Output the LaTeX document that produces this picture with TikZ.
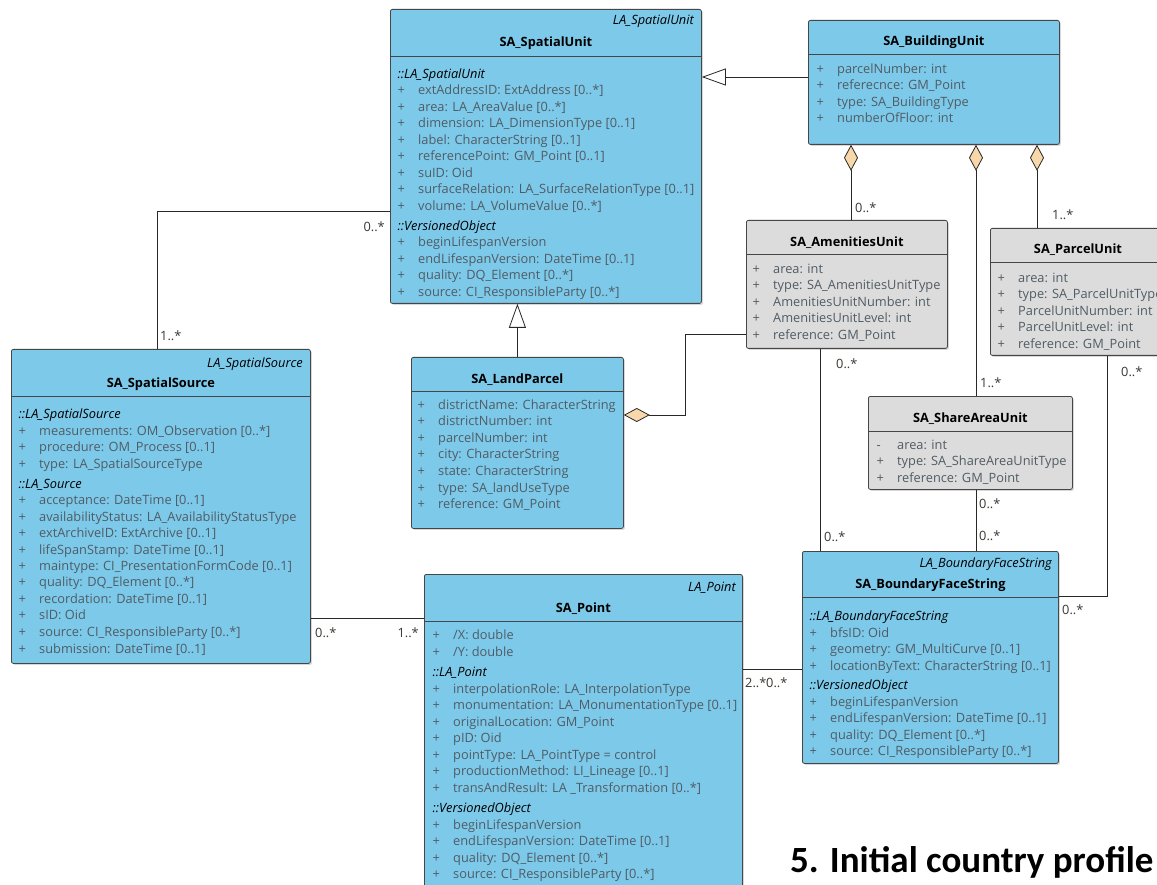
\documentclass[tikz,border=0pt]{standalone}
\usepackage{fontspec}
\setmainfont{Open Sans}
\newfontfamily\titlefont{Carlito}
\usetikzlibrary{arrows.meta,shadows}

\definecolor{clsblue}{RGB}{125,201,234}
\definecolor{clsgray}{RGB}{220,220,220}
\definecolor{boxline}{RGB}{70,70,70}
\definecolor{linecol}{RGB}{40,40,40}
\definecolor{attrcol}{RGB}{80,92,100}
\definecolor{multcol}{RGB}{60,55,50}
\definecolor{peach}{RGB}{248,216,170}

\newcommand{\umlfont}{\fontsize{12.8}{16.5}\selectfont}
\newcommand{\attr}[1]{\makebox[20.5pt][l]{+}#1}
\newcommand{\priv}[1]{\makebox[20.5pt][l]{-}#1}
\newcommand{\sect}[1]{{\color{black}\itshape #1}}

\begin{document}
\begin{tikzpicture}[x=1pt,y=-1pt]
	\tikzset{umlbox/.style={draw=boxline, line width=0.8pt, rounded corners=2pt, anchor=north west, inner sep=0pt,
			drop shadow={opacity=0.3, shadow xshift=1.5pt, shadow yshift=-1.5pt}},
		blueclass/.style={umlbox, fill=clsblue},
		grayclass/.style={umlbox, fill=clsgray},
		ctitle/.style={anchor=base, inner sep=0pt, yshift=-1.5pt, font=\umlfont\bfseries},
		stereo/.style={anchor=base east, inner sep=0pt, yshift=-1.5pt, font=\umlfont\itshape},
		attrs/.style={anchor=base west, inner sep=0pt, yshift=-1.5pt, text=attrcol, font=\umlfont},
		sepline/.style={draw=boxline, line width=0.8pt},
		assoc/.style={draw=linecol, line width=0.8pt},
		gen/.style={assoc, -{Triangle[length=24pt, width=17pt, fill=white]}},
		aggr/.style={assoc, {Diamond[length=26pt, width=14pt, fill=peach]}-},
		mult/.style={inner sep=0pt, text=multcol, font=\umlfont}}
	
	\useasboundingbox (0,0) rectangle (1157,885);
	\clip (0,0) rectangle (1157,885);
	\fill[white] (0,0) rectangle (1157,885);
	
	\node[blueclass, minimum width=311pt, minimum height=294pt] (su) at (390,9) {};
	\node[blueclass, minimum width=251pt, minimum height=124pt] (bu) at (808,20) {};
	\node[grayclass, minimum width=201pt, minimum height=128pt] (au) at (746,220) {};
	\node[grayclass, minimum width=180pt, minimum height=127pt] (pu) at (990,228) {};
	\node[blueclass, minimum width=299pt, minimum height=314pt] (ss) at (11,349) {};
	\node[blueclass, minimum width=212pt, minimum height=171pt] (lp) at (411,357) {};
	\node[grayclass, minimum width=204pt, minimum height=93pt] (sau) at (868,396) {};
	\node[blueclass, minimum width=318pt, minimum height=330pt] (pt) at (424,574) {};
	\node[blueclass, minimum width=256pt, minimum height=212pt] (bfs) at (802,551) {};
	
	\draw[sepline] (su.west |- 0,56) -- (su.east |- 0,56);
	\draw[sepline] (bu.west |- 0,54) -- (bu.east |- 0,54);
	\draw[sepline] (au.west |- 0,254) -- (au.east |- 0,254);
	\draw[sepline] (pu.west |- 0,262) -- (pu.east |- 0,262);
	\draw[sepline] (ss.west |- 0,396) -- (ss.east |- 0,396);
	\draw[sepline] (lp.west |- 0,391) -- (lp.east |- 0,391);
	\draw[sepline] (sau.west |- 0,431) -- (sau.east |- 0,431);
	\draw[sepline] (pt.west |- 0,621) -- (pt.east |- 0,621);
	\draw[sepline] (bfs.west |- 0,597) -- (bfs.east |- 0,597);
	
	\node[stereo] (su-s) at (694,23) {LA\_SpatialUnit};
	\node[stereo] (ss-s) at (303,366) {LA\_SpatialSource};
	\node[stereo] (pt-s) at (736,590) {LA\_Point};
	\node[stereo] (bfs-s) at (1052,566) {LA\_BoundaryFaceString};
	
	\node[ctitle] (su-t) at (su.north |- 0,45) {SA\_SpatialUnit};
	\node[ctitle] (bu-t) at (bu.north |- 0,44) {SA\_BuildingUnit};
	\node[ctitle] (au-t) at (au.north |- 0,245) {SA\_AmenitiesUnit};
	\node[ctitle] (pu-t) at (1078,252) {SA\_ParcelUnit};
	\node[ctitle] (ss-t) at (ss.north |- 0,386) {SA\_SpatialSource};
	\node[ctitle] (lp-t) at (lp.north |- 0,382) {SA\_LandParcel};
	\node[ctitle] (sau-t) at (sau.north |- 0,421) {SA\_ShareAreaUnit};
	\node[ctitle] (pt-t) at (pt.north |- 0,611) {SA\_Point};
	\node[ctitle] (bfs-t) at (bfs.north |- 0,587) {SA\_BoundaryFaceString};
	
	\node[attrs] (su-a) at (397.5,77) {\begin{tabular}[t]{@{}l@{}}\sect{::LA\_SpatialUnit}\\
		\attr{extAddressID: ExtAddress [0..*]}\\
		\attr{area: LA\_AreaValue [0..*]}\\
		\attr{dimension: LA\_DimensionType [0..1]}\\
		\attr{label: CharacterString [0..1]}\\
		\attr{referencePoint: GM\_Point [0..1]}\\
		\attr{suID: Oid}\\
		\attr{surfaceRelation: LA\_SurfaceRelationType [0..1]}\\
		\attr{volume: LA\_VolumeValue [0..*]}\\[3.5pt]
		\sect{::VersionedObject}\\
		\attr{beginLifespanVersion}\\
		\attr{endLifespanVersion: DateTime [0..1]}\\
		\attr{quality: DQ\_Element [0..*]}\\
		\attr{source: CI\_ResponsibleParty [0..*]}\end{tabular}};
	\node[attrs] (bu-a) at (816.5,72) {\begin{tabular}[t]{@{}l@{}}\attr{parcelNumber: int}\\
		\attr{referecnce: GM\_Point}\\
		\attr{type: SA\_BuildingType}\\
		\attr{numberOfFloor: int}\end{tabular}};
	\node[attrs] (au-a) at (752.5,272) {\begin{tabular}[t]{@{}l@{}}\attr{area: int}\\
		\attr{type: SA\_AmenitiesUnitType}\\
		\attr{AmenitiesUnitNumber: int}\\
		\attr{AmenitiesUnitLevel: int}\\
		\attr{reference: GM\_Point}\end{tabular}};
	\node[attrs] (pu-a) at (997.5,281) {\begin{tabular}[t]{@{}l@{}}\attr{area: int}\\
		\attr{type: SA\_ParcelUnitType}\\
		\attr{ParcelUnitNumber: int}\\
		\attr{ParcelUnitLevel: int}\\
		\attr{reference: GM\_Point}\end{tabular}};
	\node[attrs] (ss-a) at (18.5,417) {\begin{tabular}[t]{@{}l@{}}\sect{::LA\_SpatialSource}\\
		\attr{measurements: OM\_Observation [0..*]}\\
		\attr{procedure: OM\_Process [0..1]}\\
		\attr{type: LA\_SpatialSourceType}\\[3.5pt]
		\sect{::LA\_Source}\\
		\attr{acceptance: DateTime [0..1]}\\
		\attr{availabilityStatus: LA\_AvailabilityStatusType}\\
		\attr{extArchiveID: ExtArchive [0..1]}\\
		\attr{lifeSpanStamp: DateTime [0..1]}\\
		\attr{maintype: CI\_PresentationFormCode [0..1]}\\
		\attr{quality: DQ\_Element [0..*]}\\
		\attr{recordation: DateTime [0..1]}\\
		\attr{sID: Oid}\\
		\attr{source: CI\_ResponsibleParty [0..*]}\\
		\attr{submission: DateTime [0..1]}\end{tabular}};
	\node[attrs] (lp-a) at (417.5,408) {\begin{tabular}[t]{@{}l@{}}\attr{districtName: CharacterString}\\
		\attr{districtNumber: int}\\
		\attr{parcelNumber: int}\\
		\attr{city: CharacterString}\\
		\attr{state: CharacterString}\\
		\attr{type: SA\_landUseType}\\
		\attr{reference: GM\_Point}\end{tabular}};
	\node[attrs] (sau-a) at (876.5,448) {\begin{tabular}[t]{@{}l@{}}\priv{area: int}\\
		\attr{type: SA\_ShareAreaUnitType}\\
		\attr{reference: GM\_Point}\end{tabular}};
	\node[attrs] (pt-a) at (432.5,638) {\begin{tabular}[t]{@{}l@{}}\attr{/X: double}\\
		\attr{/Y: double}\\[4pt]
		\sect{::LA\_Point}\\
		\attr{interpolationRole: LA\_InterpolationType}\\
		\attr{monumentation: LA\_MonumentationType [0..1]}\\
		\attr{originalLocation: GM\_Point}\\
		\attr{pID: Oid}\\
		\attr{pointType: LA\_PointType = control}\\
		\attr{productionMethod: LI\_Lineage [0..1]}\\
		\attr{transAndResult: LA \_Transformation [0..*]}\\[4pt]
		\sect{::VersionedObject}\\
		\attr{beginLifespanVersion}\\
		\attr{endLifespanVersion: DateTime [0..1]}\\
		\attr{quality: DQ\_Element [0..*]}\\
		\attr{source: CI\_ResponsibleParty [0..*]}\end{tabular}};
	\node[attrs] (bfs-a) at (809.5,619) {\begin{tabular}[t]{@{}l@{}}\sect{::LA\_BoundaryFaceString}\\
		\attr{bfsID: Oid}\\
		\attr{geometry: GM\_MultiCurve [0..1]}\\
		\attr{locationByText: CharacterString [0..1]}\\[3pt]
		\sect{::VersionedObject}\\
		\attr{beginLifespanVersion}\\
		\attr{endLifespanVersion: DateTime [0..1]}\\
		\attr{quality: DQ\_Element [0..*]}\\
		\attr{source: CI\_ResponsibleParty [0..*]}\end{tabular}};
	
	\draw[assoc] (ss.north -| 157,0) |- (su.west |- 0,211);
	\draw[gen] (lp.north) -- (lp.north |- su.south);
	\draw[gen] (bu.west |- 0,77) -- (su.east |- 0,77);
	\draw[aggr] (bu.south -| 851,0) -- (au.north -| 851,0);
	\draw[aggr] (bu.south -| 976,0) -- (sau.north -| 976,0);
	\draw[aggr] (bu.south -| 1037,0) -- (pu.north -| 1037,0);
	\draw[aggr] (lp.east |- 0,415) -- (685,415) |- (au.west |- 0,334);
	\draw[assoc] (au.south -| 820,0) -- (bfs.north -| 820,0);
	\draw[assoc] (sau.south -| 976,0) -- (bfs.north -| 976,0);
	\draw[assoc] (pu.south -| 1107,0) |- (bfs.east |- 0,596);
	\draw[assoc] (ss.east |- 0,618) -- (pt.west |- 0,618);
	\draw[assoc] (pt.east |- 0,669) -- (bfs.west |- 0,669);
	
	\node[mult, anchor=east] (m1) at (385,227) {0..*};
	\node[mult, anchor=west] (m2) at (160,336) {1..*};
	\node[mult, anchor=west] (m3) at (855,208) {0..*};
	\node[mult, anchor=west] (m4) at (980,383) {1..*};
	\node[mult, anchor=west] (m5) at (1052,215) {1..*};
	\node[mult, anchor=west] (m6) at (836,364) {0..*};
	\node[mult, anchor=west] (m7) at (824,537) {0..*};
	\node[mult, anchor=west] (m8) at (979,504) {0..*};
	\node[mult, anchor=west] (m9) at (979,536) {0..*};
	\node[mult, anchor=west] (m10) at (1121,372) {0..*};
	\node[mult, anchor=west] (m11) at (1062,610) {0..*};
	\node[mult, anchor=west] (m12) at (315,633) {0..*};
	\node[mult, anchor=east] (m13) at (419,633) {1..*};
	\node[mult, anchor=west] (m14) at (745,683) {2..*};
	\node[mult, anchor=west] (m15) at (766,683) {0..*};
	
	\node[anchor=base west, inner sep=0pt, font=\titlefont\fontsize{37}{40}\selectfont\bfseries] (ptitle) at (790,872) {5. Initial country profile};
\end{tikzpicture}
\end{document}
